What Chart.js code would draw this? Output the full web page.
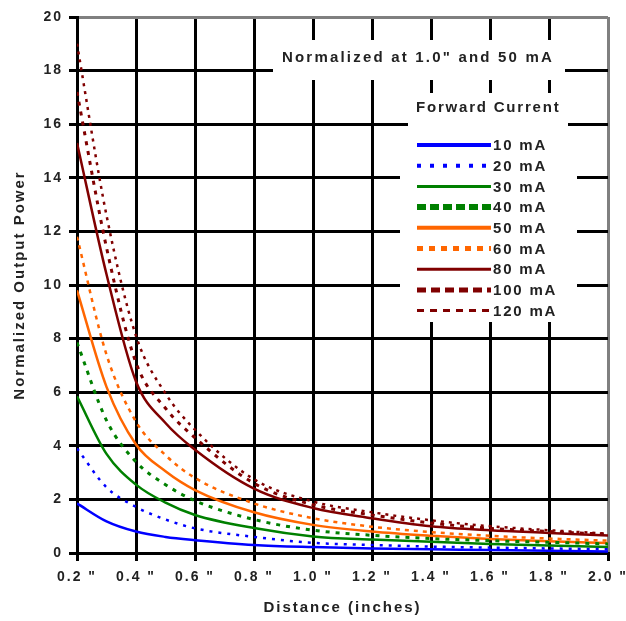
<!DOCTYPE html>
<html>
<head>
<meta charset="utf-8">
<script src="https://cdn.jsdelivr.net/npm/chart.js@4.4.1/dist/chart.umd.min.js"></script>
<style>
  html, body { margin: 0; padding: 0; background: #fff; }
  #wrap { width: 626px; height: 621px; }
</style>
</head>
<body>
<div id="wrap"><canvas id="c" width="626" height="621"></canvas></div>
<script>
// ---- data ----
const distances = [0.2, 0.3, 0.4, 0.5, 0.6, 0.8, 1.0, 1.2, 1.4, 1.6, 1.8, 2.0];
const xTickValues = [0.2, 0.4, 0.6, 0.8, 1.0, 1.2, 1.4, 1.6, 1.8, 2.0];
const xTickLabels = ['0.2 "', '0.4 "', '0.6 "', '0.8 "', '1.0 "', '1.2 "', '1.4 "', '1.6 "', '1.8 "', '2.0 "'];
const seriesNames = ['10 mA', '20 mA', '30 mA', '40 mA', '50 mA', '60 mA', '80 mA', '100 mA', '120 mA'];
const mA10  = [1.85, 1.18, 0.80, 0.60, 0.48, 0.30, 0.22, 0.17, 0.14, 0.11, 0.08, 0.06];
const mA20  = [3.90, 2.45, 1.72, 1.25, 0.92, 0.60, 0.38, 0.30, 0.24, 0.20, 0.17, 0.14];
const mA30  = [5.85, 3.70, 2.55, 1.88, 1.42, 0.93, 0.62, 0.50, 0.42, 0.34, 0.28, 0.22];
const mA40  = [7.85, 4.95, 3.40, 2.55, 1.95, 1.25, 0.85, 0.66, 0.54, 0.46, 0.40, 0.34];
const mA50  = [9.80, 6.20, 4.05, 3.05, 2.35, 1.52, 1.05, 0.80, 0.64, 0.52, 0.44, 0.37];
const mA60  = [11.8, 7.40, 4.90, 3.65, 2.80, 1.85, 1.30, 0.98, 0.78, 0.64, 0.54, 0.46];
const mA80  = [15.3, 10.4, 6.40, 4.85, 3.85, 2.40, 1.68, 1.30, 1.00, 0.85, 0.75, 0.65];
const mA100 = [17.2, 11.4, 7.10, 5.40, 4.30, 2.60, 1.80, 1.42, 1.12, 0.92, 0.80, 0.70];
const mA120 = [19.0, 12.6, 8.10, 5.95, 4.60, 2.75, 1.92, 1.52, 1.22, 1.00, 0.85, 0.72];
const seriesValues = [mA10, mA20, mA30, mA40, mA50, mA60, mA80, mA100, mA120];
const yMin = 0, yMax = 20, yStep = 2;
const noteText = 'Normalized at 1.0" and 50 mA';
const legendTitle = 'Forward Current';
const xTitle = 'Distance (inches)';
const yTitle = 'Normalized Output Power';

// ---- styles ----
const BLUE = '#0000ff', GREEN = '#008000', ORANGE = '#ff6600', DRED = '#800000';
const lineStyles = [
  { color: BLUE,   width: 2.5, dash: [],      lw: 4, ldash: [] },
  { color: BLUE,   width: 2.5, dash: [3, 6],  lw: 4, ldash: [4, 9] },
  { color: GREEN,  width: 2.5, dash: [],      lw: 3, ldash: [] },
  { color: GREEN,  width: 3,   dash: [4, 6],  lw: 6, ldash: [9, 4] },
  { color: ORANGE, width: 2.5, dash: [],      lw: 4, ldash: [] },
  { color: ORANGE, width: 2.5, dash: [4, 5],  lw: 5, ldash: [6, 6] },
  { color: DRED,   width: 2.5, dash: [],      lw: 3, ldash: [] },
  { color: DRED,   width: 3,   dash: [4, 6],  lw: 5, ldash: [9, 5] },
  { color: DRED,   width: 2.5, dash: [3, 5],  lw: 3, ldash: [7, 6] }
];
const FONT = '"Liberation Sans", Arial, sans-serif';
const TXT = '#222';

const datasets = seriesNames.map((name, i) => ({
  label: name,
  data: distances.map((d, k) => ({ x: d, y: seriesValues[i][k] })),
  borderColor: lineStyles[i].color,
  backgroundColor: lineStyles[i].color,
  borderWidth: lineStyles[i].width,
  borderDash: lineStyles[i].dash,
  pointRadius: 0,
  fill: false,
  cubicInterpolationMode: 'monotone'
}));

const spacingPlugin = {
  id: 'spacing',
  beforeLayout(chart) { chart.ctx.letterSpacing = '2px'; },
  beforeDraw(chart) { chart.ctx.letterSpacing = '2px'; }
};

const overlayPlugin = {
  id: 'overlay',
  afterDraw(chart) {
    const ctx = chart.ctx;
    ctx.save();
    // note box
    ctx.fillStyle = '#fff';
    ctx.fillRect(273, 40, 292, 40);
    ctx.fillStyle = TXT;
    ctx.letterSpacing = '2.2px';
    ctx.font = 'bold 15px ' + FONT;
    ctx.textAlign = 'center';
    ctx.textBaseline = 'middle';
    ctx.fillText(noteText, 418, 58);
    // legend boxes
    ctx.letterSpacing = '1.8px';
    ctx.fillStyle = '#fff';
    ctx.fillRect(408, 93, 160, 34);
    ctx.fillRect(400, 126, 177, 196);
    ctx.fillStyle = TXT;
    ctx.textAlign = 'left';
    ctx.fillText(legendTitle, 416, 108);
    seriesNames.forEach((name, i) => {
      const y = 145 + i * 20.7;
      const st = lineStyles[i];
      ctx.save();
      ctx.strokeStyle = st.color;
      ctx.lineWidth = st.lw;
      ctx.setLineDash(st.ldash);
      ctx.beginPath();
      ctx.moveTo(417, y);
      ctx.lineTo(491, y);
      ctx.stroke();
      ctx.restore();
      ctx.fillStyle = TXT;
      ctx.fillText(name, 493, y + 1);
    });
    ctx.restore();
  }
};

new Chart(document.getElementById('c'), {
  type: 'line',
  data: { datasets },
  options: {
    responsive: false,
    animation: false,
    devicePixelRatio: 1,
    layout: { padding: { top: 17, right: 18, left: 0, bottom: 0 } },
    plugins: { legend: { display: false }, tooltip: { enabled: false } },
    scales: {
      x: {
        type: 'linear',
        min: xTickValues[0],
        max: xTickValues[xTickValues.length - 1],
        afterBuildTicks: (s) => { s.ticks = xTickValues.map((v) => ({ value: v })); },
        grid: {
          lineWidth: 3,
          color: (c) => (c.index === xTickValues.length - 1 ? '#808080' : '#000'),
          tickColor: '#000',
          tickLength: 8
        },
        border: { display: true, color: '#000', width: 3 },
        ticks: {
          color: TXT, font: { family: FONT, size: 14, weight: 'bold' }, padding: 8,
          maxRotation: 0, autoSkip: false,
          callback: (v, i) => xTickLabels[i]
        },
        title: { display: true, text: xTitle, color: TXT, font: { family: FONT, size: 15, weight: 'bold' }, padding: { top: 0, bottom: 4 } },
        afterFit: (s) => { s.height = 68; s.paddingLeft = 0; s.paddingRight = 0; }
      },
      y: {
        min: yMin, max: yMax,
        grid: {
          lineWidth: 3,
          color: (c) => (c.tick && c.tick.value === yMax ? '#808080' : '#000'),
          tickColor: '#000',
          tickLength: 8
        },
        border: { display: true, color: '#000', width: 3 },
        ticks: { stepSize: yStep, color: TXT, font: { family: FONT, size: 14, weight: 'bold' }, padding: 6 },
        title: { display: true, text: yTitle, color: TXT, font: { family: FONT, size: 15, weight: 'bold' }, padding: { top: 11, bottom: 0 } },
        afterFit: (s) => { s.width = 77; s.paddingTop = 0; s.paddingBottom = 0; }
      }
    }
  },
  plugins: [spacingPlugin, overlayPlugin]
});
</script>
</body>
</html>
